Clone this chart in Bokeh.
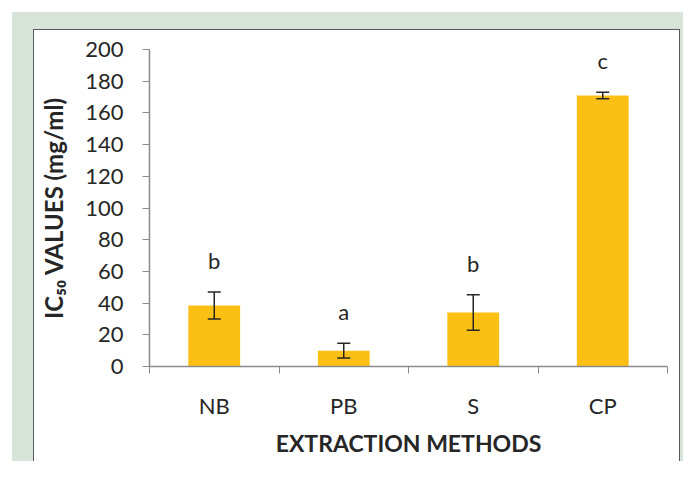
from bokeh.plotting import figure
from bokeh.models import (ColumnDataSource, Range1d, FixedTicker, Whisker, TeeHead, Title)
from bokeh.core.properties import value
from bokeh.embed import file_html
from bokeh.resources import INLINE

# ---- data ----
categories = ["NB", "PB", "S", "CP"]
ic50_values = [38.5, 10, 34, 171]
ic50_errors = [8.5, 4.7, 11.2, 2.0]
group_letters = ["b", "a", "b", "c"]
y_ticks = [0, 20, 40, 60, 80, 100, 120, 140, 160, 180, 200]

FONT = "Lato"
BAR = "#FCBF14"
TXT = "#262626"
AXIS = "#8a8a8a"
GREEN = "#D6E4DA"
EDGE = "#5a5a5a"

xs = [i + 0.5 for i in range(len(categories))]
upper = [v + e for v, e in zip(ic50_values, ic50_errors)]
lower = [v - e for v, e in zip(ic50_values, ic50_errors)]
letter_y = [u + 20 for u in upper]

src = ColumnDataSource(dict(x=xs, top=ic50_values, upper=upper, lower=lower,
                            letter=group_letters, ly=letter_y))

# page background (green band, white panel with dark edge) painted by CSS behind a transparent canvas
bg_styles = {
    "background-color": GREEN,
    "background-image": ", ".join([
        "linear-gradient(white, white)",      # top white strip
        "linear-gradient(white, white)",      # left white strip
        f"linear-gradient({EDGE}, {EDGE})",   # panel top edge
        f"linear-gradient({EDGE}, {EDGE})",   # panel left edge
        f"linear-gradient({EDGE}, {EDGE})",   # panel right edge
        "linear-gradient(white, white)",      # panel
    ]),
    "background-position": "0px 0px, 0px 0px, 33px 29px, 33px 29px, 679px 29px, 33px 29px",
    "background-size": "100% 12px, 12px 100%, 647px 1px, 1px 432px, 1px 432px, 647px 432px",
    "background-repeat": "no-repeat",
}

p = figure(output_backend="svg", toolbar_location=None,
           width=683, height=461,
           min_border_left=149, min_border_right=16,
           min_border_top=49, min_border_bottom=87,
           x_range=Range1d(0, len(categories)), y_range=Range1d(0, 200),
           background_fill_color="white", border_fill_color=None,
           outline_line_color=None, styles=bg_styles)
p.grid.grid_line_color = None

p.vbar(x="x", top="top", width=0.40, source=src, fill_color=BAR, line_color=None)

w = Whisker(base="x", upper="upper", lower="lower", source=src, level="annotation",
            line_color=TXT, line_width=1.5,
            upper_head=TeeHead(size=13, line_color=TXT, line_width=1.5),
            lower_head=TeeHead(size=13, line_color=TXT, line_width=1.5))
p.add_layout(w)

p.text(x="x", y="ly", text="letter", source=src, text_align="center",
       text_baseline="middle", text_font=value(FONT), text_font_size="22px",
       text_color=TXT)

# x axis: boundary ticks as minor ticks, labels at centers
xa = p.xaxis[0]
xa.ticker = FixedTicker(ticks=xs, minor_ticks=list(range(len(categories) + 1)))
xa.major_label_overrides = {x: c for x, c in zip(xs, categories)}
xa.major_tick_line_color = None
xa.major_tick_out = 0
xa.major_tick_in = 0
xa.minor_tick_out = 7
xa.minor_tick_in = 0
xa.minor_tick_line_color = AXIS
xa.axis_line_color = AXIS
xa.axis_line_width = 1.5
xa.major_label_standoff = 18
xa.major_label_text_font = FONT
xa.major_label_text_font_size = "22px"
xa.major_label_text_color = TXT

ya = p.yaxis[0]
ya.ticker = FixedTicker(ticks=y_ticks)
ya.minor_tick_line_color = None
ya.major_tick_out = 7
ya.major_tick_in = 0
ya.major_tick_line_color = AXIS
ya.axis_line_color = AXIS
ya.axis_line_width = 1.5
ya.major_label_standoff = 19
ya.major_label_text_font = FONT
ya.major_label_text_font_size = "22px"
ya.major_label_text_color = TXT
ya.axis_label = "IC\u2085\u2080 VALUES (mg/ml)"
ya.axis_label_text_font = FONT
ya.axis_label_text_font_style = "bold"
ya.axis_label_text_font_size = "24px"
ya.axis_label_text_color = TXT
ya.axis_label_standoff = 14

xtitle = Title(text="EXTRACTION METHODS", align="center", offset=-60, standoff=10,
               text_font=FONT, text_font_style="bold", text_font_size="23px",
               text_line_height=1.0, text_color=TXT)
p.add_layout(xtitle, "below")

open("out.html", "w").write(file_html(p, INLINE))
